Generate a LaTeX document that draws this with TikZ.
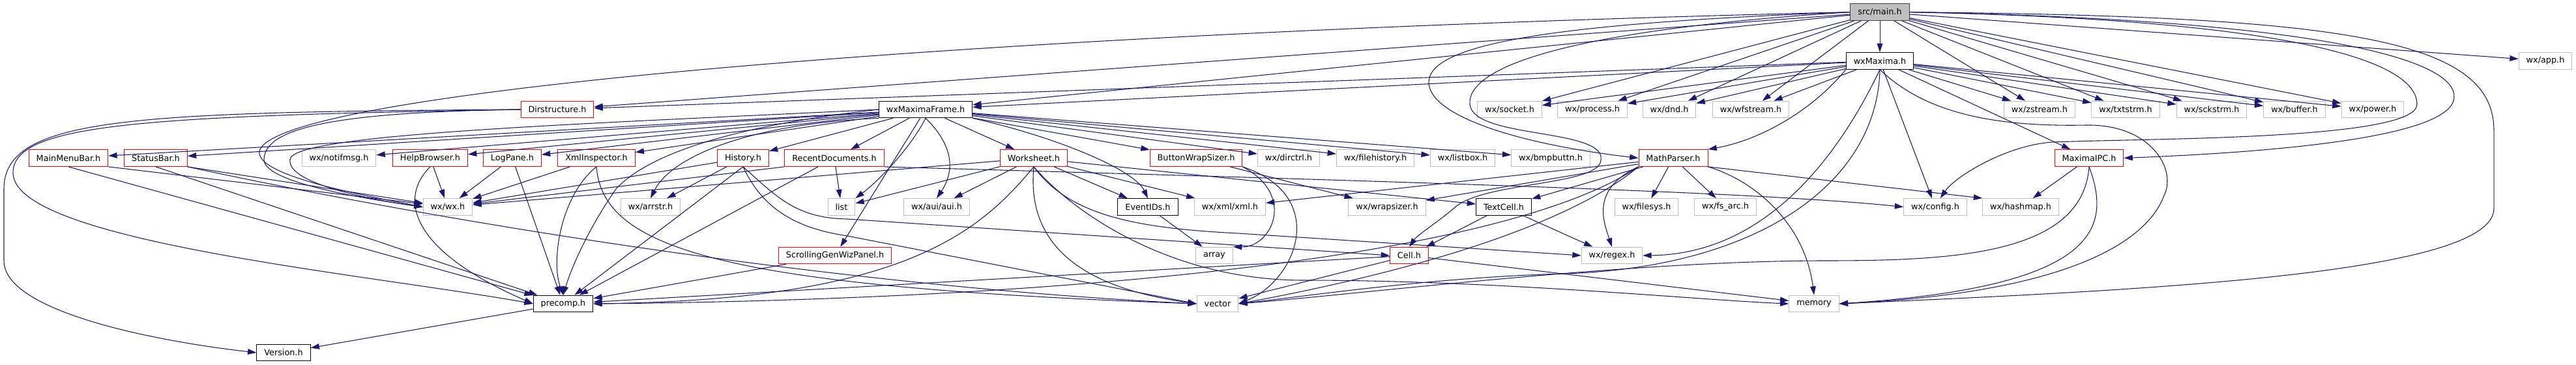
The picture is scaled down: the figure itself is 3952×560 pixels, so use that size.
\documentclass[tikz,border=0pt]{standalone}
\usepackage{fontspec}
\setmainfont{DejaVu Sans}
\usetikzlibrary{arrows.meta}
\definecolor{edgeblue}{HTML}{191970}
\definecolor{extgray}{HTML}{BFBFBF}

\begin{document}
\begin{tikzpicture}[
    x=0.75pt, y=-0.75pt,
    hdr/.style={draw, fill=white, line width=0.75pt, minimum height=19.3pt, inner xsep=8.6pt, inner ysep=0pt, font=\fontsize{9.6}{11}\selectfont},
    ext/.style={hdr, draw=extgray},
    trunc/.style={hdr, draw=red},
    doc/.style={hdr, draw=black},
    root/.style={hdr, draw=black!75, fill=extgray},
    dep/.style={draw=edgeblue, line width=0.8pt, -{Triangle[length=10pt, width=6.5pt]}}
]
\useasboundingbox (0,0) rectangle (3952,560);

% rows 1-3
\node[root] (main) at (2884,18.6) {src/main.h};
\node[doc] (wxmaxima) at (2884,93.4) {wxMaxima.h};
\node[ext] (app) at (3905,93.4) {wx/app.h};
\node[trunc] (dirstructure) at (855,168) {Dirstructure.h};
\node[doc] (frame) at (1420,168) {wxMaximaFrame.h};
\node[ext] (socket) at (2316,168) {wx/socket.h};
\node[ext] (process) at (2443,168) {wx/process.h};
\node[ext] (dnd) at (2561,168) {wx/dnd.h};
\node[ext] (wfstream) at (2686,168) {wx/wfstream.h};
\node[ext] (zstream) at (3129,168) {wx/zstream.h};
\node[ext] (txtstrm) at (3261,168) {wx/txtstrm.h};
\node[ext] (sckstrm) at (3393,168) {wx/sckstrm.h};
\node[ext] (buffer) at (3520,168) {wx/buffer.h};
\node[ext] (power) at (3640,168) {wx/power.h};

% row 4
\node[trunc] (mainmenubar) at (105,242.5) {MainMenuBar.h};
\node[trunc] (statusbar) at (239,242.5) {StatusBar.h};
\node[ext] (notifmsg) at (520,242.5) {wx/notifmsg.h};
\node[trunc] (helpbrowser) at (660,242.5) {HelpBrowser.h};
\node[trunc] (logpane) at (786,242.5) {LogPane.h};
\node[trunc] (xmlinspector) at (915,242.5) {XmlInspector.h};
\node[trunc] (history) at (1140,242.5) {History.h};
\node[trunc] (recentdocs) at (1280,242.5) {RecentDocuments.h};
\node[trunc] (worksheet) at (1586,242.5) {Worksheet.h};
\node[trunc] (buttonwrapsizer) at (1835,242.5) {ButtonWrapSizer.h};
\node[ext] (dirctrl) at (1977,242.5) {wx/dirctrl.h};
\node[ext] (filehistory) at (2110,242.5) {wx/filehistory.h};
\node[ext] (listbox) at (2244,242.5) {wx/listbox.h};
\node[ext] (bmpbuttn) at (2379,242.5) {wx/bmpbuttn.h};
\node[trunc] (mathparser) at (2567,242.5) {MathParser.h};
\node[trunc] (maximaipc) at (3205,242.5) {MaximaIPC.h};

% row 5
\node[ext] (wxwx) at (687,317.5) {wx/wx.h};
\node[ext] (arrstr) at (998,317.5) {wx/arrstr.h};
\node[ext] (list) at (1291,317.5) {list};
\node[ext] (aui) at (1437,317.5) {wx/aui/aui.h};
\node[doc] (eventids) at (1761,317.5) {EventIDs.h};
\node[ext] (xml) at (1887,317.5) {wx/xml/xml.h};
\node[ext] (wrapsizer) at (2128,317.5) {wx/wrapsizer.h};
\node[doc] (textcell) at (2307,317.5) {TextCell.h};
\node[ext] (filesys) at (2526,317.5) {wx/filesys.h};
\node[ext] (fsarc) at (2647,317.5) {wx/fs\_arc.h};
\node[ext] (config) at (2969,317.5) {wx/config.h};
\node[ext] (hashmap) at (3100,317.5) {wx/hashmap.h};

% rows 6-8
\node[trunc] (scrolling) at (1281,392) {ScrollingGenWizPanel.h};
\node[ext] (array) at (1863,392) {array};
\node[trunc] (cell) at (2162,392) {Cell.h};
\node[ext] (regex) at (2473,392) {wx/regex.h};
\node[doc] (precomp) at (864,466) {precomp.h};
\node[ext] (vector) at (1868,466) {vector};
\node[ext] (memory) at (2783,466) {memory};
\node[doc] (version) at (435,541) {Version.h};

% src/main.h
\foreach \t in {wxmaxima,app,dirstructure,frame,socket,process,dnd,wfstream,zstream,txtstrm,sckstrm,buffer,power}
  \draw[dep] (main) -- (\t);
\draw[dep] (main.west) .. controls (1500,50) and (420,140) .. (398,232) .. controls (392,270) and (560,300) .. (wxwx.west);
\draw[dep] (main.west) .. controls (2400,35) and (2195,65) .. (2192,125) .. controls (2190,175) and (2320,220) .. (mathparser.west);
\draw[dep] (main.west) .. controls (2420,45) and (2250,100) .. (2255,160) .. controls (2260,215) and (2475,195) .. (2455,250)
  .. controls (2440,285) and (2270,280) .. (2230,320) .. controls (2200,345) and (2175,360) .. (cell.north);
\draw[dep] (main.east) .. controls (3550,30) and (3770,90) .. (3765,150) .. controls (3760,215) and (3450,235) .. (maximaipc.east);
\draw[dep] (main.east) .. controls (3500,30) and (3708,90) .. (3708,160) .. controls (3708,215) and (3300,212) .. (3150,218)
  .. controls (3080,222) and (3000,270) .. (config.60);
\draw[dep] (main.east) .. controls (3600,25) and (3826,60) .. (3826,200) -- (3826,320) .. controls (3826,420) and (3300,445) .. (memory.east);

% wxMaxima.h
\foreach \t in {dirstructure,frame,socket,process,dnd,wfstream,zstream,txtstrm,sckstrm,buffer,power,maximaipc,config}
  \draw[dep] (wxmaxima) -- (\t);
\draw[dep] (wxmaxima.south west) .. controls (2780,170) and (2700,215) .. (mathparser.north east);
\draw[dep] (wxmaxima.south) .. controls (2830,220) and (2720,390) .. (regex.east);
\draw[dep] (wxmaxima.south) .. controls (2880,280) and (2700,410) .. (2400,420) .. controls (2200,425) and (2000,455) .. (vector.east);
\draw[dep] (wxmaxima.south) .. controls (2950,170) and (3050,195) .. (3200,192) .. controls (3300,190) and (3340,260) .. (3320,300)
  .. controls (3290,380) and (3150,450) .. (memory.east);

% Dirstructure.h
\draw[dep] (dirstructure.west) .. controls (520,172) and (405,195) .. (405,245) .. controls (405,280) and (560,305) .. (wxwx.west);
\draw[dep] (dirstructure.west) .. controls (200,172) and (6,180) .. (6,290) -- (6,400) .. controls (6,480) and (250,525) .. (version.west);
\draw[dep] (dirstructure.west) .. controls (220,178) and (20,190) .. (20,265) .. controls (20,370) and (560,420) .. (precomp.west);

% wxMaximaFrame.h
\foreach \t in {mainmenubar,statusbar,notifmsg,helpbrowser,logpane,xmlinspector,history,recentdocs,worksheet,buttonwrapsizer,dirctrl,filehistory,listbox,bmpbuttn,scrolling}
  \draw[dep] (frame) -- (\t);
\draw[dep] (frame.west) .. controls (900,190) and (445,205) .. (445,245) .. controls (440,280) and (560,305) .. (wxwx.west);
\draw[dep] (frame.west) .. controls (1150,190) and (1000,230) .. (945,290) .. controls (910,340) and (880,400) .. (precomp.north);
\draw[dep] (frame.south west) .. controls (1150,190) and (1030,240) .. (arrstr.north);
\draw[dep] (frame.south) .. controls (1395,230) and (1345,280) .. (list.north east);
\draw[dep] (frame.south) .. controls (1470,230) and (1460,270) .. (aui.north);
\draw[dep] (frame.south east) .. controls (1620,210) and (1740,260) .. (eventids.north);

% row 4 headers
\draw[dep] (mainmenubar.south east) -- (wxwx);
\draw[dep] (mainmenubar.south) -- (precomp);
\draw[dep] (statusbar.south east) -- (wxwx);
\draw[dep] (statusbar.south) -- (precomp);
\draw[dep] (statusbar.south east) .. controls (700,345) and (1300,440) .. (vector.west);
\draw[dep] (helpbrowser) -- (wxwx);
\draw[dep] (helpbrowser.south) .. controls (615,300) and (620,380) .. (precomp.west);
\draw[dep] (logpane) -- (wxwx);
\draw[dep] (logpane) -- (precomp);
\draw[dep] (xmlinspector) -- (wxwx);
\draw[dep] (xmlinspector.south) .. controls (860,300) and (845,400) .. (precomp.north);
\draw[dep] (xmlinspector.south) .. controls (925,380) and (1100,440) .. (vector.west);
\draw[dep] (history) -- (wxwx);
\draw[dep] (history) -- (arrstr);
\draw[dep] (history.south) -- (precomp);
\draw[dep] (history.south) .. controls (1190,300) and (1220,335) .. (1300,336) -- (cell.west);
\draw[dep] (history.south) .. controls (1170,320) and (1220,350) .. (1300,362) -- (vector.west);
\draw[dep] (recentdocs.south west) -- (wxwx);
\draw[dep] (recentdocs) -- (list);
\draw[dep] (recentdocs) -- (precomp);
\draw[dep] (recentdocs.south east) .. controls (2200,280) and (2700,295) .. (config.west);
\foreach \t in {wxwx,list,aui,eventids,xml,textcell}
  \draw[dep] (worksheet) -- (\t);
\draw[dep] (worksheet.south) .. controls (1500,360) and (1380,460) .. (precomp.east);
\draw[dep] (worksheet.south) .. controls (1575,370) and (1650,440) .. (vector.west);
\draw[dep] (worksheet.south) .. controls (1650,330) and (1800,430) .. (2000,430) .. controls (2300,430) and (2600,460) .. (memory.west);
\draw[dep] (worksheet.south) .. controls (1640,330) and (1740,350) .. (1900,358) -- (regex.west);
\draw[dep] (buttonwrapsizer) -- (wrapsizer);
\draw[dep] (buttonwrapsizer.south east) .. controls (1990,300) and (1950,380) .. (array.north east);
\draw[dep] (buttonwrapsizer.south east) .. controls (2040,300) and (1990,430) .. (vector.east);

% MathParser.h
\foreach \t in {xml,wrapsizer,textcell,filesys,fsarc}
  \draw[dep] (mathparser) -- (\t);
\draw[dep] (mathparser.south east) -- (hashmap.north west);
\draw[dep] (mathparser.south east) .. controls (2700,280) and (2770,350) .. (memory.north);
\draw[dep] (mathparser.south west) .. controls (2440,290) and (2460,340) .. (regex.north);
\draw[dep] (mathparser.south west) .. controls (2400,350) and (2150,420) .. (vector.east);
\draw[dep] (mathparser.south west) .. controls (2300,400) and (1600,460) .. (precomp.east);

% MaximaIPC.h
\draw[dep] (maximaipc) -- (hashmap);
\draw[dep] (maximaipc.south) .. controls (3240,350) and (3220,440) .. (memory.east);
\draw[dep] (maximaipc.south) .. controls (3195,390) and (3000,400) .. (2800,400) .. controls (2500,400) and (2100,450) .. (vector.east);

% lower rows
\draw[dep] (eventids) -- (array);
\draw[dep] (textcell) -- (cell);
\draw[dep] (textcell) -- (regex);
\draw[dep] (scrolling) -- (precomp);
\draw[dep] (cell) -- (precomp);
\draw[dep] (cell) -- (vector);
\draw[dep] (cell) -- (memory);
\draw[dep] (precomp) -- (version);
\end{tikzpicture}
\end{document}
